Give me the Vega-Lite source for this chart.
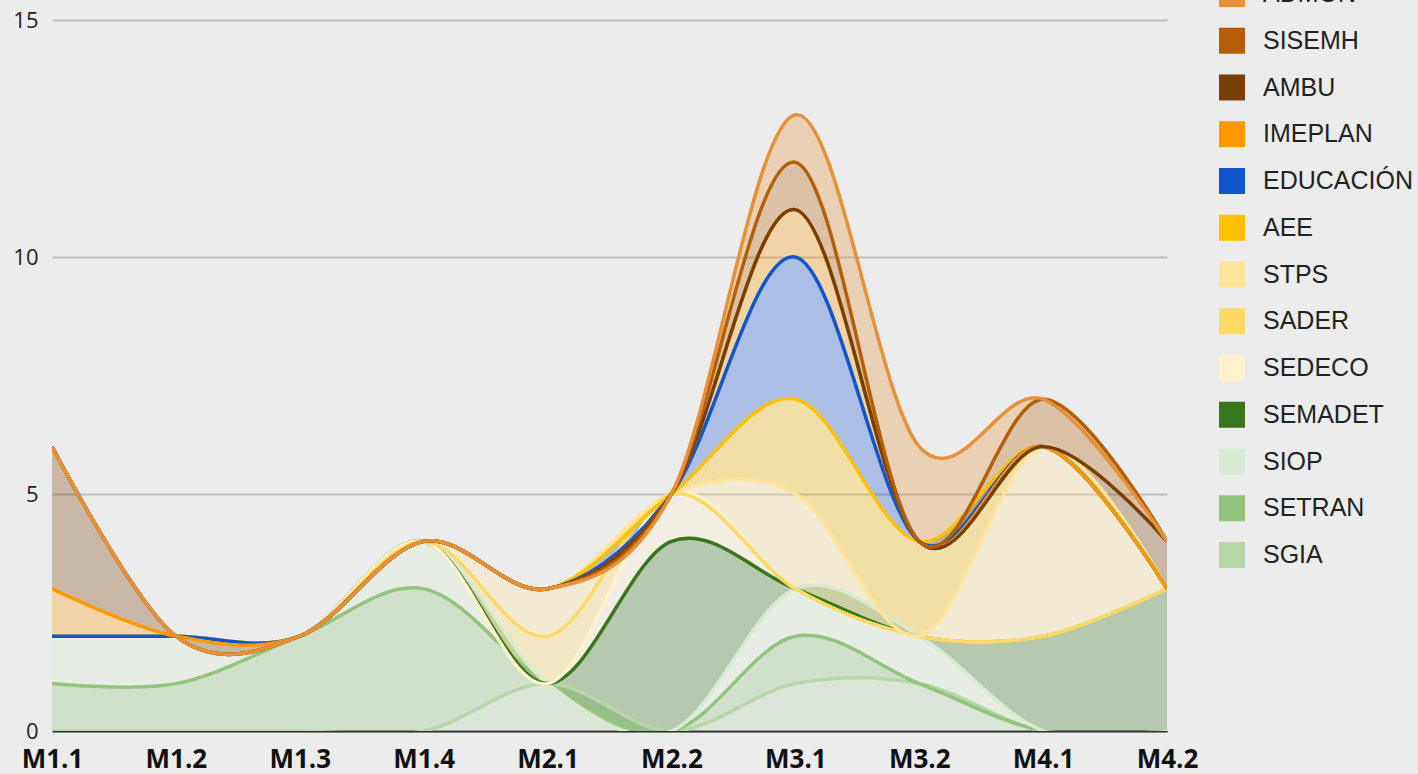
{
  "$schema": "https://vega.github.io/schema/vega-lite/v6.json",
  "width": 1115,
  "height": 711,
  "autosize": "none",
  "padding": {"left": 52, "top": 20, "right": 251, "bottom": 43},
  "background": "#ECECEC",
  "config": {"view": {"stroke": null}},
  "data": {"values": [
    {"cat":"M1.1","s":"SGIA","k":1,"v":0},{"cat":"M1.1","s":"SETRAN","k":2,"v":1},{"cat":"M1.1","s":"SIOP","k":3,"v":1},{"cat":"M1.1","s":"SEMADET","k":4,"v":0},{"cat":"M1.1","s":"SEDECO","k":5,"v":0},{"cat":"M1.1","s":"SADER","k":6,"v":0},{"cat":"M1.1","s":"STPS","k":7,"v":0},{"cat":"M1.1","s":"AEE","k":8,"v":0},{"cat":"M1.1","s":"EDUCACIÓN","k":9,"v":0},{"cat":"M1.1","s":"IMEPLAN","k":10,"v":1},{"cat":"M1.1","s":"AMBU","k":11,"v":3},{"cat":"M1.1","s":"SISEMH","k":12,"v":0},{"cat":"M1.1","s":"ADMON","k":13,"v":0},
    {"cat":"M1.2","s":"SGIA","k":1,"v":0},{"cat":"M1.2","s":"SETRAN","k":2,"v":1},{"cat":"M1.2","s":"SIOP","k":3,"v":1},{"cat":"M1.2","s":"SEMADET","k":4,"v":0},{"cat":"M1.2","s":"SEDECO","k":5,"v":0},{"cat":"M1.2","s":"SADER","k":6,"v":0},{"cat":"M1.2","s":"STPS","k":7,"v":0},{"cat":"M1.2","s":"AEE","k":8,"v":0},{"cat":"M1.2","s":"EDUCACIÓN","k":9,"v":0},{"cat":"M1.2","s":"IMEPLAN","k":10,"v":0},{"cat":"M1.2","s":"AMBU","k":11,"v":0},{"cat":"M1.2","s":"SISEMH","k":12,"v":0},{"cat":"M1.2","s":"ADMON","k":13,"v":0},
    {"cat":"M1.3","s":"SGIA","k":1,"v":0},{"cat":"M1.3","s":"SETRAN","k":2,"v":2},{"cat":"M1.3","s":"SIOP","k":3,"v":0},{"cat":"M1.3","s":"SEMADET","k":4,"v":0},{"cat":"M1.3","s":"SEDECO","k":5,"v":0},{"cat":"M1.3","s":"SADER","k":6,"v":0},{"cat":"M1.3","s":"STPS","k":7,"v":0},{"cat":"M1.3","s":"AEE","k":8,"v":0},{"cat":"M1.3","s":"EDUCACIÓN","k":9,"v":0},{"cat":"M1.3","s":"IMEPLAN","k":10,"v":0},{"cat":"M1.3","s":"AMBU","k":11,"v":0},{"cat":"M1.3","s":"SISEMH","k":12,"v":0},{"cat":"M1.3","s":"ADMON","k":13,"v":0},
    {"cat":"M1.4","s":"SGIA","k":1,"v":0},{"cat":"M1.4","s":"SETRAN","k":2,"v":3},{"cat":"M1.4","s":"SIOP","k":3,"v":1},{"cat":"M1.4","s":"SEMADET","k":4,"v":0},{"cat":"M1.4","s":"SEDECO","k":5,"v":0},{"cat":"M1.4","s":"SADER","k":6,"v":0},{"cat":"M1.4","s":"STPS","k":7,"v":0},{"cat":"M1.4","s":"AEE","k":8,"v":0},{"cat":"M1.4","s":"EDUCACIÓN","k":9,"v":0},{"cat":"M1.4","s":"IMEPLAN","k":10,"v":0},{"cat":"M1.4","s":"AMBU","k":11,"v":0},{"cat":"M1.4","s":"SISEMH","k":12,"v":0},{"cat":"M1.4","s":"ADMON","k":13,"v":0},
    {"cat":"M2.1","s":"SGIA","k":1,"v":1},{"cat":"M2.1","s":"SETRAN","k":2,"v":0},{"cat":"M2.1","s":"SIOP","k":3,"v":0},{"cat":"M2.1","s":"SEMADET","k":4,"v":0},{"cat":"M2.1","s":"SEDECO","k":5,"v":0},{"cat":"M2.1","s":"SADER","k":6,"v":1},{"cat":"M2.1","s":"STPS","k":7,"v":1},{"cat":"M2.1","s":"AEE","k":8,"v":0},{"cat":"M2.1","s":"EDUCACIÓN","k":9,"v":0},{"cat":"M2.1","s":"IMEPLAN","k":10,"v":0},{"cat":"M2.1","s":"AMBU","k":11,"v":0},{"cat":"M2.1","s":"SISEMH","k":12,"v":0},{"cat":"M2.1","s":"ADMON","k":13,"v":0},
    {"cat":"M2.2","s":"SGIA","k":1,"v":0},{"cat":"M2.2","s":"SETRAN","k":2,"v":0},{"cat":"M2.2","s":"SIOP","k":3,"v":0},{"cat":"M2.2","s":"SEMADET","k":4,"v":4},{"cat":"M2.2","s":"SEDECO","k":5,"v":1},{"cat":"M2.2","s":"SADER","k":6,"v":0},{"cat":"M2.2","s":"STPS","k":7,"v":0},{"cat":"M2.2","s":"AEE","k":8,"v":0},{"cat":"M2.2","s":"EDUCACIÓN","k":9,"v":0},{"cat":"M2.2","s":"IMEPLAN","k":10,"v":0},{"cat":"M2.2","s":"AMBU","k":11,"v":0},{"cat":"M2.2","s":"SISEMH","k":12,"v":0},{"cat":"M2.2","s":"ADMON","k":13,"v":0},
    {"cat":"M3.1","s":"SGIA","k":1,"v":1},{"cat":"M3.1","s":"SETRAN","k":2,"v":1},{"cat":"M3.1","s":"SIOP","k":3,"v":1},{"cat":"M3.1","s":"SEMADET","k":4,"v":0},{"cat":"M3.1","s":"SEDECO","k":5,"v":0},{"cat":"M3.1","s":"SADER","k":6,"v":0},{"cat":"M3.1","s":"STPS","k":7,"v":2},{"cat":"M3.1","s":"AEE","k":8,"v":2},{"cat":"M3.1","s":"EDUCACIÓN","k":9,"v":3},{"cat":"M3.1","s":"IMEPLAN","k":10,"v":1},{"cat":"M3.1","s":"AMBU","k":11,"v":0},{"cat":"M3.1","s":"SISEMH","k":12,"v":1},{"cat":"M3.1","s":"ADMON","k":13,"v":1},
    {"cat":"M3.2","s":"SGIA","k":1,"v":1},{"cat":"M3.2","s":"SETRAN","k":2,"v":0},{"cat":"M3.2","s":"SIOP","k":3,"v":1},{"cat":"M3.2","s":"SEMADET","k":4,"v":0},{"cat":"M3.2","s":"SEDECO","k":5,"v":0},{"cat":"M3.2","s":"SADER","k":6,"v":0},{"cat":"M3.2","s":"STPS","k":7,"v":0},{"cat":"M3.2","s":"AEE","k":8,"v":2},{"cat":"M3.2","s":"EDUCACIÓN","k":9,"v":0},{"cat":"M3.2","s":"IMEPLAN","k":10,"v":0},{"cat":"M3.2","s":"AMBU","k":11,"v":0},{"cat":"M3.2","s":"SISEMH","k":12,"v":0},{"cat":"M3.2","s":"ADMON","k":13,"v":2},
    {"cat":"M4.1","s":"SGIA","k":1,"v":0},{"cat":"M4.1","s":"SETRAN","k":2,"v":0},{"cat":"M4.1","s":"SIOP","k":3,"v":0},{"cat":"M4.1","s":"SEMADET","k":4,"v":2},{"cat":"M4.1","s":"SEDECO","k":5,"v":0},{"cat":"M4.1","s":"SADER","k":6,"v":0},{"cat":"M4.1","s":"STPS","k":7,"v":4},{"cat":"M4.1","s":"AEE","k":8,"v":0},{"cat":"M4.1","s":"EDUCACIÓN","k":9,"v":0},{"cat":"M4.1","s":"IMEPLAN","k":10,"v":0},{"cat":"M4.1","s":"AMBU","k":11,"v":0},{"cat":"M4.1","s":"SISEMH","k":12,"v":1},{"cat":"M4.1","s":"ADMON","k":13,"v":0},
    {"cat":"M4.2","s":"SGIA","k":1,"v":0},{"cat":"M4.2","s":"SETRAN","k":2,"v":0},{"cat":"M4.2","s":"SIOP","k":3,"v":0},{"cat":"M4.2","s":"SEMADET","k":4,"v":3},{"cat":"M4.2","s":"SEDECO","k":5,"v":0},{"cat":"M4.2","s":"SADER","k":6,"v":0},{"cat":"M4.2","s":"STPS","k":7,"v":0},{"cat":"M4.2","s":"AEE","k":8,"v":0},{"cat":"M4.2","s":"EDUCACIÓN","k":9,"v":0},{"cat":"M4.2","s":"IMEPLAN","k":10,"v":0},{"cat":"M4.2","s":"AMBU","k":11,"v":1},{"cat":"M4.2","s":"SISEMH","k":12,"v":0},{"cat":"M4.2","s":"ADMON","k":13,"v":0}
  ]},
  "transform": [
    {"stack": "v", "groupby": ["cat"], "sort": [{"field": "k", "order": "ascending"}], "as": ["y0", "y1"]}
  ],
  "encoding": {
    "x": {
      "field": "cat", "type": "ordinal", "sort": null,
      "scale": {"type": "point", "padding": 0},
      "axis": {
        "title": null, "labelAngle": 0, "ticks": false,
        "domain": true, "domainColor": "#333333", "domainWidth": 2,
        "labelFont": "Open Sans", "labelFontSize": 26, "labelFontWeight": "bold",
        "labelColor": "#111111", "labelPadding": 15, "labelOverlap": false, "grid": false
      }
    },
    "color": {
      "field": "s", "type": "nominal",
      "scale": {
        "domain": ["ADMON","SISEMH","AMBU","IMEPLAN","EDUCACIÓN","AEE","STPS","SADER","SEDECO","SEMADET","SIOP","SETRAN","SGIA"],
        "range": ["#E69138","#B45F06","#783F04","#FF9900","#1155CC","#FFC000","#FFE599","#FFD966","#FFF2CC","#38761D","#D9EAD3","#93C47D","#B6D7A8"]
      },
      "legend": {
        "title": null, "orient": "none", "legendX": 1167, "legendY": -39,
        "symbolType": "square", "symbolSize": 676, "symbolOpacity": 1,
        "symbolStrokeWidth": 0, "labelFont": "Liberation Sans", "labelFontSize": 25,
        "labelColor": "#222222", "labelOffset": 18, "rowPadding": 20.75, "padding": 0,
        "labelLimit": 400
      }
    }
  },
  "layer": [
    {
      "mark": {"type": "area", "interpolate": "cardinal", "opacity": 0.3, "clip": true},
      "encoding": {
        "y": {
          "field": "y1", "type": "quantitative",
          "scale": {"domain": [0, 15], "nice": false},
          "axis": {
            "title": null, "values": [0, 5, 10, 15], "ticks": false, "domain": false,
            "gridColor": "#BDBDBD", "gridWidth": 2,
            "labelFont": "Open Sans", "labelFontSize": 22, "labelColor": "#222222", "labelPadding": 14
          }
        },
        "y2": {"field": "y0"}
      }
    },
    {
      "mark": {"type": "line", "interpolate": "cardinal", "strokeWidth": 3.5, "clip": true},
      "encoding": {
        "y": {"field": "y1", "type": "quantitative"}
      }
    }
  ]
}
